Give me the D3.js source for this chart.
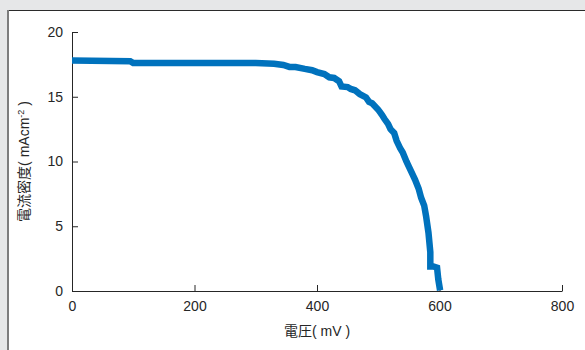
<!DOCTYPE html>
<html>
<head>
<meta charset="utf-8">
<script src="https://cdn.jsdelivr.net/npm/d3@7"></script>
<style>
    body { margin: 0; background: #e6e7e8; }
    svg { display: block; }
</style>
</head>
<body>
<div id="chart"></div>
<script>
// J-V curve
const voltage = [0, 95, 100, 200, 300, 330, 345, 355, 365, 380, 392, 400, 412, 420, 428, 436, 440, 450, 455,
    462, 470, 480, 485, 490, 500, 506, 510, 516, 520, 526, 530, 536, 540, 546, 550, 556, 560, 566, 570,
    575, 578, 582, 585, 585, 590, 596, 598, 601]
const current = [17.8, 17.75, 17.6, 17.6, 17.6, 17.55, 17.45, 17.3, 17.3, 17.15, 17.05, 16.9, 16.75, 16.5, 16.45,
    16.2, 15.8, 15.75, 15.6, 15.5, 15.2, 14.95, 14.6, 14.5, 14.0, 13.6, 13.3, 12.9, 12.5, 12.2, 11.6, 11.0, 10.7,
    10.0, 9.6, 9.0, 8.6, 7.9, 7.2, 6.6, 5.8, 4.5, 3.0, 1.9, 1.9, 1.8, 0.9, 0.05]
const xTicks = [0, 200, 400, 600, 800]
const yTicks = [0, 5, 10, 15, 20]

const width = 585
const height = 350
const margin = {left: 72, right: 23, top: 32, bottom: 59}

const svg = d3.select("#chart")
    .append("svg")
    .attr("width", width)
    .attr("height", height)

// white panel with its border on top and left
svg.append("rect")
    .attr("x", 7).attr("y", 10)
    .attr("width", width - 7).attr("height", height - 10)
    .attr("fill", "#fff")
svg.append("line")
    .attr("x1", 7).attr("x2", width)
    .attr("y1", 10.5).attr("y2", 10.5)
    .attr("stroke", "#2b2b2b")
svg.append("line")
    .attr("x1", 8).attr("x2", 8)
    .attr("y1", 10).attr("y2", height)
    .attr("stroke", "#7d7d7d")
    .attr("stroke-width", 2)

const x = d3.scaleLinear().domain([0, 800]).range([margin.left, width - margin.right])
const y = d3.scaleLinear().domain([0, 20]).range([height - margin.bottom, margin.top])

const font = "'Liberation Sans', Arial, sans-serif"

const xAxis = svg.append("g")
    .attr("transform", `translate(0,${y(0)})`)
    .call(d3.axisBottom(x).tickValues(xTicks).tickSizeInner(-6).tickSizeOuter(0).tickPadding(10))
const yAxis = svg.append("g")
    .attr("transform", `translate(${x(0)},0)`)
    .call(d3.axisLeft(y).tickValues(yTicks).tickSizeInner(-6).tickSizeOuter(0).tickPadding(9))

for (const ax of [xAxis, yAxis]) {
    ax.select(".domain").attr("stroke", "#262626")
    ax.selectAll(".tick line").attr("stroke", "#262626")
    ax.selectAll(".tick text")
        .attr("fill", "#262626")
        .style("font-family", font)
        .style("font-size", "14px")
}

// curve
svg.append("path")
    .datum(voltage.map((v, i) => [v, current[i]]))
    .attr("fill", "none")
    .attr("stroke", "#0072bd")
    .attr("stroke-width", 6.5)
    .attr("stroke-linejoin", "miter")
    .attr("d", d3.line().x((d) => x(d[0])).y((d) => y(d[1])))

// axis titles
const cjk = "'Noto Sans CJK JP', 'Liberation Sans', sans-serif"
const xl = svg.append("text")
    .attr("x", x(400))
    .attr("y", 336)
    .attr("text-anchor", "middle")
    .attr("fill", "#262626")
    .style("font-family", cjk)
    .style("font-size", "14px")
xl.append("tspan").text("電圧")
xl.append("tspan").style("font-family", font).text("( mV )")

const yl = svg.append("text")
    .attr("transform", `translate(29,${y(10)}) rotate(-90)`)
    .attr("text-anchor", "middle")
    .attr("fill", "#262626")
    .style("font-family", cjk)
    .style("font-size", "14px")
yl.append("tspan").text("電流密度")
yl.append("tspan").style("font-family", font).text("( mAcm")
yl.append("tspan").attr("dy", -5).style("font-family", font).style("font-size", "9px").text("-2")
yl.append("tspan").attr("dy", 5).style("font-family", font).text(" )")
</script>
</body>
</html>
